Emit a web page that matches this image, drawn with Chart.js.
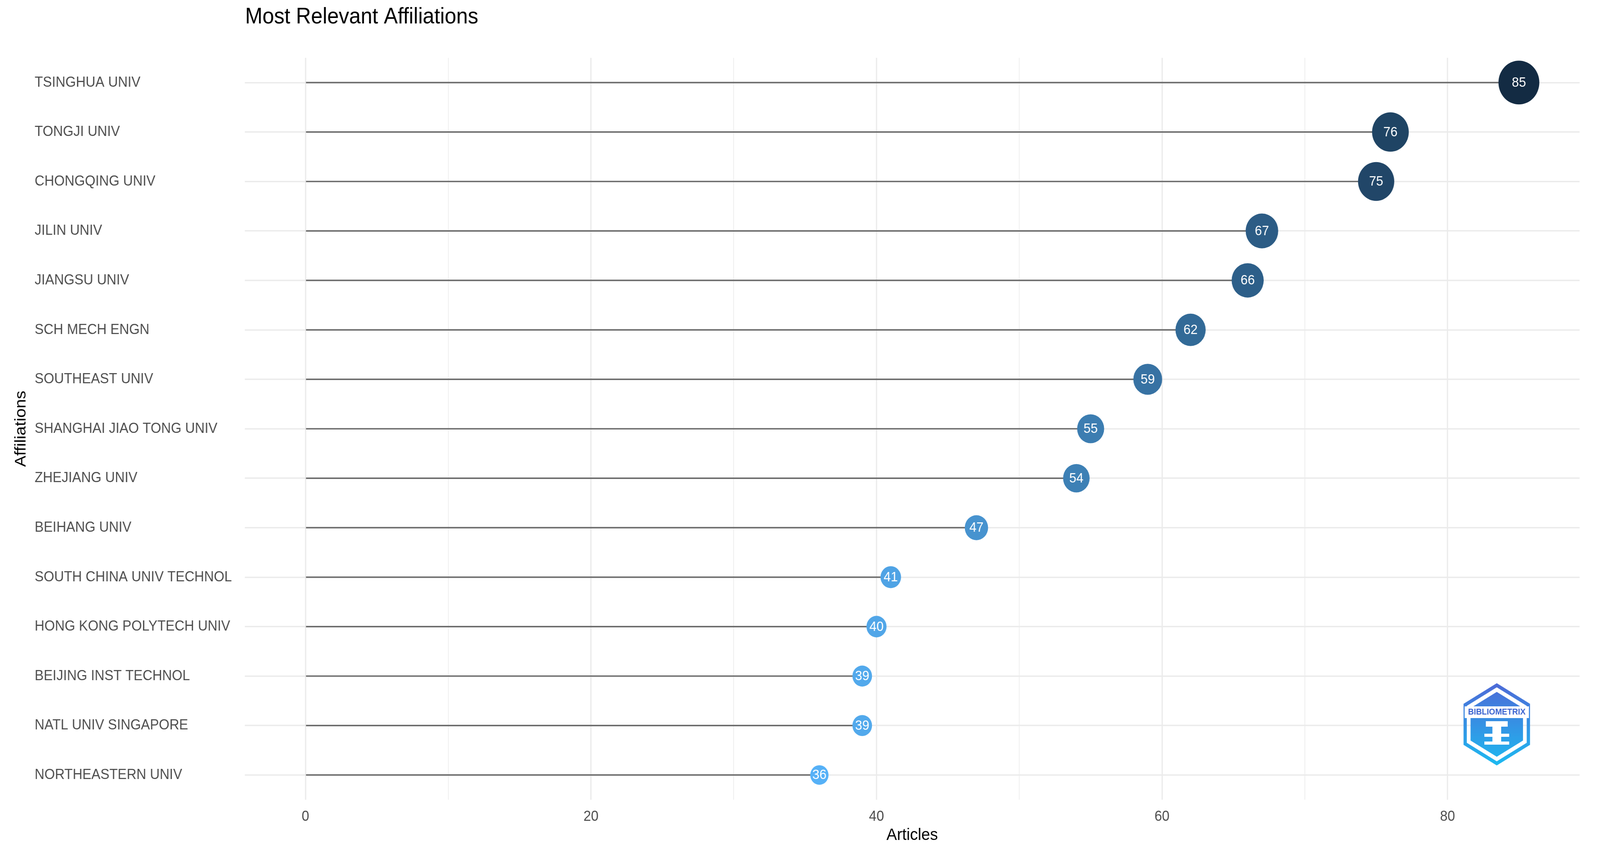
<!DOCTYPE html>
<html><head><meta charset="utf-8">
<script src="https://cdn.jsdelivr.net/npm/chart.js@4"></script>
<style>html,body{margin:0;padding:0;background:#fff;overflow:hidden}</style></head>
<body><canvas id="c" width="4386" height="2168" style="width:100vw;height:100vh;display:block"></canvas>
<script>
const affiliations=["TSINGHUA UNIV","TONGJI UNIV","CHONGQING UNIV","JILIN UNIV","JIANGSU UNIV","SCH MECH ENGN","SOUTHEAST UNIV","SHANGHAI JIAO TONG UNIV","ZHEJIANG UNIV","BEIHANG UNIV","SOUTH CHINA UNIV TECHNOL","HONG KONG POLYTECH UNIV","BEIJING INST TECHNOL","NATL UNIV SINGAPORE","NORTHEASTERN UNIV"];
const articles=[85,76,75,67,66,62,59,55,54,47,41,40,39,39,36];
const xTicks=[0,20,40,60,80];

const vmin=Math.min(...articles),vmax=Math.max(...articles);
const lo=[0x56,0xB1,0xF7],hi=[0x13,0x2B,0x43];
function col(v){const t=(v-vmin)/(vmax-vmin);return 'rgb('+lo.map((a,i)=>Math.round(a+(hi[i]-a)*t)).join(',')+')';}
function rad(v){const t=(v-vmin)/(vmax-vmin);return 25+31*t;}

const labelsPlugin={id:'lbl',afterDatasetsDraw(ch){
  const ctx=ch.ctx,meta=ch.getDatasetMeta(1);
  ctx.save();ctx.fillStyle='#fff';ctx.font='35px "Liberation Sans", Arial';ctx.textAlign='center';ctx.textBaseline='middle';
  meta.data.forEach((p,i)=>ctx.fillText(articles[i],p.x,p.y+1));
  ctx.restore();
}};
function hex(ctx,cx,cy,r){ctx.beginPath();for(let k=0;k<6;k++){const a=k*Math.PI/3-Math.PI/2;const x=cx+r*Math.cos(a),y=cy+r*Math.sin(a);k?ctx.lineTo(x,y):ctx.moveTo(x,y);}ctx.closePath();}
const extraPlugin={id:'extra',afterDraw(ch){
  const ctx=ch.ctx;ctx.save();
  ctx.fillStyle='#000';ctx.font='57px "Liberation Sans", Arial';ctx.textBaseline='middle';ctx.textAlign='left';
  ctx.fillText('Most Relevant Affiliations',672,44);
  ctx.translate(58,(ch.chartArea.top+ch.chartArea.bottom)/2);ctx.rotate(-Math.PI/2);
  ctx.textAlign='center';ctx.font='43px "Liberation Sans", Arial';ctx.fillText('Affiliations',0,0);
  ctx.setTransform(1,0,0,1,0,0);
  const cx=4103,cy=1854,R=100;
  const grad=ctx.createLinearGradient(0,cy-R,0,cy+R);grad.addColorStop(0,'#4C6CD8');grad.addColorStop(1,'#1EB8F0');
  ctx.lineWidth=9;ctx.strokeStyle=grad;hex(ctx,cx,cy,R);ctx.stroke();
  ctx.fillStyle=grad;hex(ctx,cx,cy,R-17);ctx.fill();
  ctx.fillStyle='#fff';ctx.fillRect(cx-88,cy-46,176,30);
  ctx.fillStyle='#3A63D0';ctx.font='bold 22px "Liberation Sans", Arial';ctx.textAlign='center';ctx.fillText('BIBLIOMETRIX',cx,cy-31);
  ctx.fillStyle='#fff';ctx.fillRect(cx-30,cy-8,60,14);ctx.fillRect(cx-12,cy+6,24,40);ctx.fillRect(cx-34,cy+24,68,8);ctx.fillRect(cx-34,cy+44,68,8);
  ctx.restore();
}};

new Chart(document.getElementById('c'),{
  data:{labels:affiliations,datasets:[
    {type:'bar',data:articles.map(v=>[0,v]),backgroundColor:'#6b6b6b',barThickness:3,order:2},
    {type:'scatter',data:articles.map((v,i)=>({x:v,y:affiliations[i]})),pointRadius:articles.map(rad),pointBackgroundColor:articles.map(col),pointBorderWidth:0,order:1}
  ]},
  options:{indexAxis:'y',responsive:false,devicePixelRatio:1,animation:false,
    layout:{padding:{top:148,right:18,left:95,bottom:0}},
    plugins:{legend:{display:false},tooltip:{enabled:false}},
    scales:{
      x:{type:'linear',min:-4.25,max:89.25,afterBuildTicks(s){s.ticks=[0,10,20,30,40,50,60,70,80].map(v=>({value:v}));},
        afterFit(s){s.height=121;},
        border:{display:false},
        grid:{color:'#EBEBEB',lineWidth:c=>(c.tick&&c.tick.value%20===0)?3.5:1.8,drawTicks:false},
        ticks:{padding:22,color:'#4D4D4D',font:{size:37,family:'"Liberation Sans", Arial'},callback:v=>xTicks.includes(v)?String(v):''},
        title:{display:true,text:'Articles',color:'#000',font:{size:43,family:'"Liberation Sans", Arial'},padding:{top:0}}},
      y:{type:'category',offset:true,afterFit(s){s.width=576;},
        border:{display:false},
        grid:{color:'#EBEBEB',lineWidth:3.5,drawTicks:false,offset:false},
        ticks:{crossAlign:'far',padding:12,color:'#4D4D4D',font:{size:37,family:'"Liberation Sans", Arial'}},
        title:{display:false}}
    }},
  plugins:[labelsPlugin,extraPlugin]
});
</script></body></html>
